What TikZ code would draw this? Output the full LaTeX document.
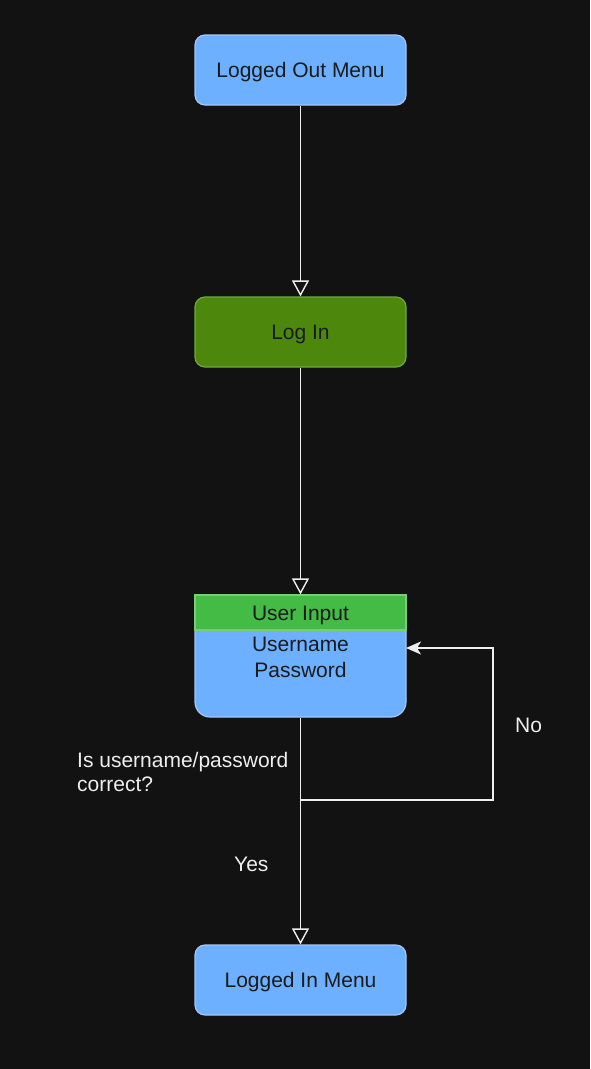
\documentclass[tikz,border=0pt]{standalone}
\usepackage{fontspec}
\setmainfont{Liberation Sans}
\usetikzlibrary{arrows.meta}
\definecolor{bg}{HTML}{121212}
\definecolor{menublue}{HTML}{6DB0FF}
\definecolor{menuline}{HTML}{A8C4F5}
\definecolor{logingreen}{HTML}{4D880D}
\definecolor{loginline}{HTML}{6DAA3F}
\definecolor{hdrgreen}{HTML}{44BB44}
\definecolor{hdrline}{HTML}{7CCB7C}
\definecolor{wire}{HTML}{EEEEEE}
\definecolor{ink}{HTML}{1A1A1A}
\tikzstyle{menu} = [draw=menuline, fill=menublue, text=ink, line width=1.2pt,
    rounded corners=10pt, minimum width=211pt, minimum height=70pt,
    text height=15pt, text depth=0pt,
    font=\fontsize{21}{25}\selectfont]
\tikzstyle{login} = [menu, draw=loginline, fill=logingreen]
\tikzset{>={Triangle[open,length=16pt,width=17pt]}}
\tikzset{wirestyle/.style={draw=wire, line width=1.4pt},
    caption/.style={text=wire, inner sep=0pt, align=left,
        font=\fontsize{21}{24}\selectfont}}

\begin{document}
\begin{tikzpicture}
\begin{scope}[x=1pt,y=-1pt]
    \useasboundingbox[fill=bg] (0,0) rectangle (590,1069);
    %boxes
    \node[menu] (lout) at (300.5, 70) {Logged Out Menu};
    \node[login] (login) at (300.5, 332) {Log In};
    \node[menu, minimum height=122pt, rounded corners=15pt] (input) at (300.5, 656) {};
    \node[menu, draw=hdrline, fill=hdrgreen, rounded corners=0pt,
          minimum height=35pt] (hdr) at (300.5, 612.5) {User Input};
    \node[text=ink, align=center, inner sep=0pt,
          font=\fontsize{21}{26}\selectfont] (fields) at (300.5, 657) {Username\\Password};
    \node[menu] (lin) at (300.5, 980) {Logged In Menu};
    %points of the loop
    \coordinate (split) at (301, 800);
    \coordinate (turn) at (493, 800);
    \coordinate (back) at (406, 648);
    %lines
    \draw[->, wirestyle] (lout) -- (login);
    \draw[->, wirestyle] (login) -- (input);
    \draw[->, wirestyle] (input) -- (lin);
    \draw[-{Stealth[length=15pt,width=13pt,inset=4pt]}, wirestyle] (split) -- (turn) |- (back);
    %labels
    \node[caption, anchor=north west] (ask) at (77, 752) {Is username/password\\correct?};
    \node[caption, anchor=base west] (yes) at (234, 871) {Yes};
    \node[caption, anchor=base west] (no) at (515, 732) {No};
\end{scope}
\end{tikzpicture}
\end{document}
